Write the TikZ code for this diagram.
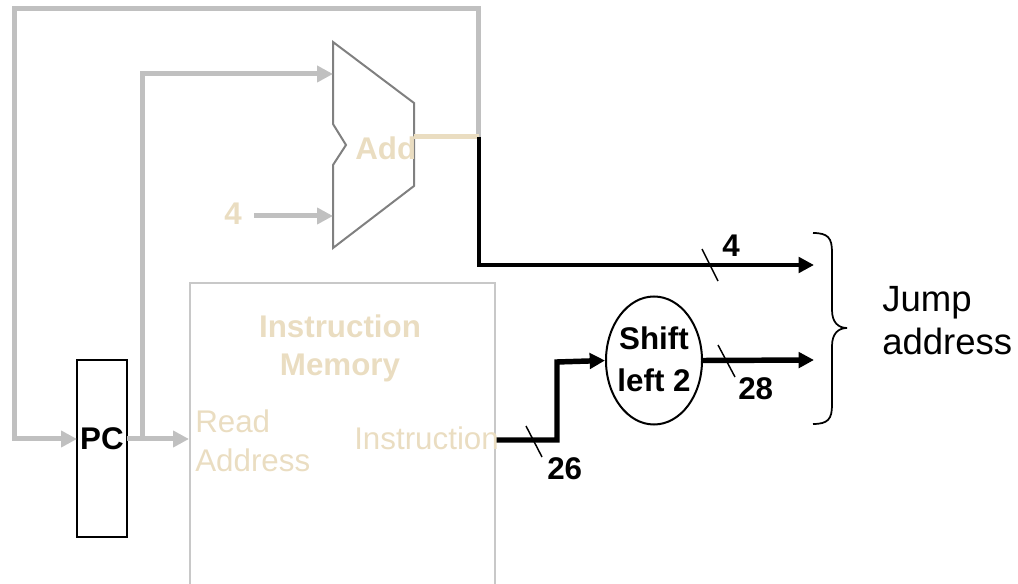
\documentclass[tikz,border=0pt]{standalone}
\usepackage{fontspec}
\setmainfont{Liberation Sans}
\usetikzlibrary{arrows.meta,shapes.geometric}
\definecolor{wiregray}{RGB}{192,192,192}
\definecolor{alugray}{RGB}{128,128,128}
\definecolor{tanc}{RGB}{234,221,193}
\definecolor{boxgray}{RGB}{200,200,200}
\begin{document}
\begin{tikzpicture}[x=0.75pt,y=-0.75pt,
  gw/.style={draw=wiregray,line width=3.75pt},
  bw/.style={draw=black,line width=3pt},
  tw/.style={draw=black,line width=4.1pt},
  tanwire/.style={draw=tanc,line width=3.75pt},
  tipg/.style={-{Triangle[length=12pt,width=12pt]}},
  tipb/.style={-{Triangle[length=11.5pt,width=11.5pt]}},
  slash/.style={draw=black,line width=1.1pt},
  lbl/.style={inner sep=0pt,font=\fontsize{23.5}{28}\selectfont},
  lblb/.style={inner sep=0pt,font=\fontsize{23.5}{28}\selectfont\bfseries},
  aluline/.style={draw=alugray,line width=1.5pt,line join=miter}]
\useasboundingbox (0,0) rectangle (1018,584);

% coordinates
\coordinate (jn) at (478.5,137);
\coordinate (topR) at (478.5,9);
\coordinate (topL) at (14.5,9);
\coordinate (loopB) at (14.5,439);
\coordinate (pcin) at (77,439);
\coordinate (pcout) at (127,439);
\coordinate (br) at (142.5,439);
\coordinate (brT) at (142.5,74);
\coordinate (imin) at (189,439);
\coordinate (aluin1) at (333,74);
\coordinate (aluin2) at (333,216);
\coordinate (aluout) at (414,137);
\coordinate (four) at (254,216);
\coordinate (jnB) at (478.5,265);
\coordinate (j1) at (814,265);
\coordinate (imout) at (494,440);
\coordinate (st1) at (557,440);
\coordinate (st2) at (557,362);
\coordinate (j2) at (814,360);

% boxes
\node[draw=boxgray,line width=1.8pt,minimum width=228.75pt,minimum height=240pt,anchor=north west,inner sep=0pt] (im) at (189,282) {};
\node[draw=black,line width=1.5pt,minimum width=37.5pt,minimum height=132.75pt,inner sep=0pt] (pc) at (102,448.5) {};
\node[ellipse,draw=black,line width=1.5pt,minimum width=72pt,minimum height=96pt,inner sep=0pt] (shift) at (654,360.5) {};

% ALU
\draw[aluline] (333,42) -- (414,103) -- (414,186) -- (333,248) -- (333,165) -- (346,145) -- (333,124) -- cycle;

% gray wires
\draw[gw,tipg] (jn) -- (topR) -- (topL) -- (loopB) -- (pcin);
\draw[gw,tipg] (pcout) -- (imin);
\draw[gw,tipg] (br) -- (brT) -- (aluin1);
\draw[gw,tipg] (four) -- (aluin2);
\draw[tanwire] (aluout) -- (jn);

% black wires
\draw[bw,tipb] (jn) -- (jnB) -- (j1);
\draw[tw,tipb,line join=miter] (imout) -- (st1) -- (st2) -- (shift.west);
\draw[tw,tipb] (shift.east) -- (j2);

% slashes
\draw[slash] (702,249) -- (718,281);
\draw[slash] (526,426) -- (542,457);
\draw[slash] (718,345) -- (735,377);

% brace
\draw[black,line width=1.3pt] (813,233) .. controls (828,233) and (832,238) .. (832,252) -- (832,310)
  .. controls (832,322) and (838,328) .. (847,328)
  .. controls (838,328) and (832,334) .. (832,346) -- (832,405)
  .. controls (832,419) and (828,424) .. (813,424);

% texts
\node[lblb,text=tanc,anchor=base west] (addt) at (355,160) {Add};
\node[lblb,text=tanc,anchor=base] (fourt) at (233,225) {4};
\node[lblb,anchor=base] (pct) at (102,450) {PC};
\node[lblb,text=tanc,anchor=base] (im1) at (340,338) {Instruction};
\node[lblb,text=tanc,anchor=base] (im2) at (340,376) {Memory};
\node[lbl,text=tanc,anchor=base west] (rd1) at (195,433) {Read};
\node[lbl,text=tanc,anchor=base west] (rd2) at (195,472) {Address};
\node[lbl,text=tanc,anchor=base west] (inst) at (354,450) {Instruction};
\node[lblb,anchor=base] (sh1) at (654,350) {Shift};
\node[lblb,anchor=base] (sh2) at (654,392) {left 2};
\node[lblb,anchor=base west] (n4) at (722,257) {4};
\node[lblb,anchor=base west] (n26) at (547,480) {26};
\node[lblb,anchor=base west] (n28) at (738,400) {28};
\node[inner sep=0pt,font=\fontsize{27.4}{32}\selectfont,anchor=base west] (ja1) at (882,312) {Jump};
\node[inner sep=0pt,font=\fontsize{27.4}{32}\selectfont,anchor=base west] (ja2) at (882,355) {address};
\end{tikzpicture}
\end{document}
